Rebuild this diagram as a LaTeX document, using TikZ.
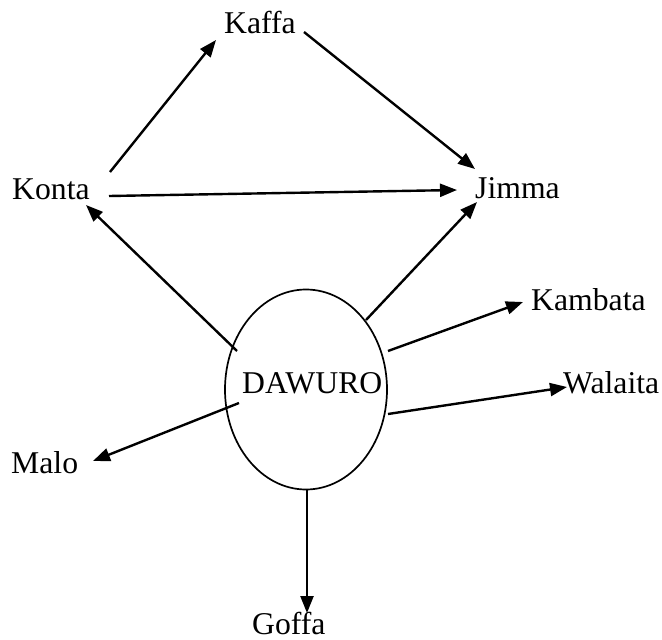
\documentclass[tikz,border=0pt]{standalone}
\usepackage{fontspec}
\setmainfont{Liberation Serif}
\usetikzlibrary{arrows.meta,shapes.geometric}
\begin{document}
\begin{tikzpicture}[x=1pt,y=1pt,
  lbl/.style={anchor=base west,inner sep=0pt,font=\fontsize{31.7}{38}\selectfont},
  conn/.style={line width=2.4pt,-{Triangle[length=17pt,width=13pt]}},
  oval/.style={ellipse,draw,line width=1.7pt,minimum width=162pt,minimum height=200pt,inner sep=0pt}]
\useasboundingbox (0,0) rectangle (662,-640);
\node[oval] (dawuro) at (306,-389.5) {};
\node[lbl] (dawurotext) at (242,-393) {DAWURO};
\node[lbl] (kaffa) at (224,-33) {Kaffa};
\node[lbl] (konta) at (12,-199) {Konta};
\node[lbl] (jimma) at (475,-198) {Jimma};
\node[lbl] (kambata) at (531,-310) {Kambata};
\node[lbl] (walaita) at (563,-393) {Walaita};
\node[lbl] (malo) at (11,-473) {Malo};
\node[lbl] (goffa) at (252,-634) {Goffa};
\draw[conn] ([shift={(98,27)}]konta.base west) -- ([shift={(-8,-7)}]kaffa.base west);
\draw[conn] ([shift={(80,1)}]kaffa.base west) -- ([shift={(0,29)}]jimma.base west);
\draw[conn] ([shift={(97,3)}]konta.base west) -- ([shift={(-18,8)}]jimma.base west);
\draw[conn] ([shift={(-69,38.5)}]dawuro.center) -- ([shift={(74,-6)}]konta.base west);
\draw[conn] ([shift={(60,69.5)}]dawuro.center) -- ([shift={(2,-4)}]jimma.base west);
\draw[conn] ([shift={(82,38.5)}]dawuro.center) -- ([shift={(-8,8)}]kambata.base west);
\draw[conn] ([shift={(82,-24.5)}]dawuro.center) -- ([shift={(4,6)}]walaita.base west);
\draw[conn] ([shift={(-67,-13.5)}]dawuro.center) -- ([shift={(82,12)}]malo.base west);
\draw[conn] ([shift={(1,-99.5)}]dawuro.center) -- ([shift={(55,21)}]goffa.base west);
\end{tikzpicture}
\end{document}
